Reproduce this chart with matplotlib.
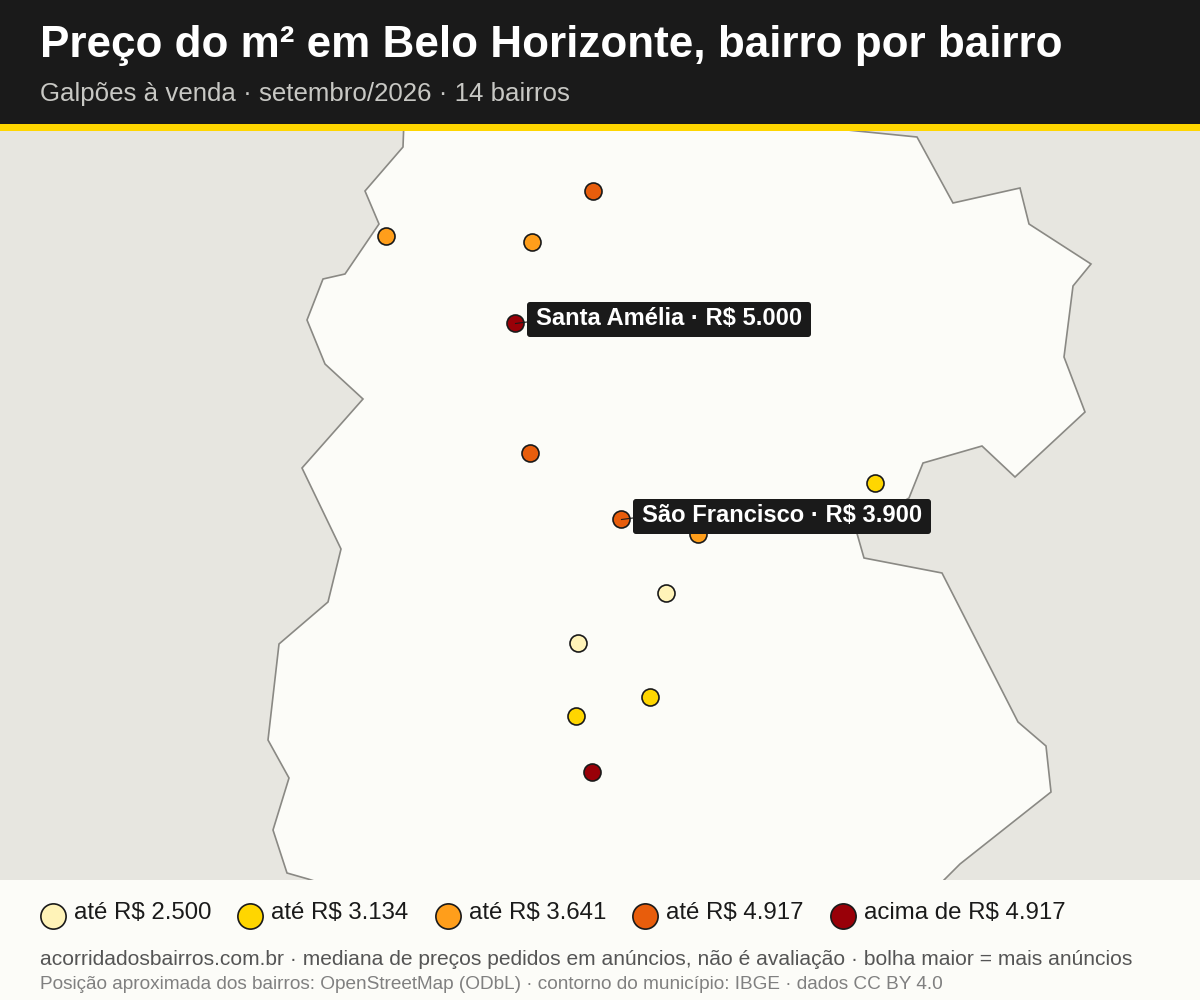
import matplotlib
matplotlib.use("Agg")
import matplotlib.pyplot as plt
from matplotlib.patches import FancyBboxPatch, Polygon, Rectangle
from matplotlib.lines import Line2D

plt.rcParams["font.family"] = ["Liberation Sans", "DejaVu Sans"]

# outline runs a bit past the map strip, header and footer hide the ends
OUTLINE_X = [404, 403, 365, 379, 345, 323, 307, 325, 363, 302, 341, 328, 279, 268, 289, 273, 287, 308, 343,
             934, 944, 960, 1051, 1046, 1018, 942, 864, 856, 909, 923, 982, 1015, 1085, 1064, 1073, 1091,
             1029, 1020, 953, 917, 857, 752]
OUTLINE_Y = [120, 147, 191, 224, 274, 279, 320, 364, 399, 468, 549, 602, 644, 740, 778, 830, 873, 879, 890,
             890, 880, 864, 792, 746, 722, 573, 558, 530, 498, 463, 446, 477, 412, 357, 286, 264,
             224, 188, 203, 137, 131, 120]

BAIRRO_X = [593.5, 386.5, 532.5, 515.5, 530.5, 875.5, 698.5, 621.5, 666.5, 578.5, 650.5, 576.5, 592.5]
BAIRRO_Y = [191.5, 236.5, 242.5, 323.5, 453.5, 483.5, 534.5, 519.5, 593.5, 643.5, 697.5, 716.5, 772.5]
BAIRRO_CLASS = [3, 2, 2, 4, 3, 1, 2, 3, 0, 0, 1, 1, 4]

CLASS_COLORS = ["#FFF3B8", "#FFD600", "#FF9E1B", "#E85D0C", "#990008"]
CLASS_LABELS = ["até R$ 2.500", "até R$ 3.134", "até R$ 3.641", "até R$ 4.917", "acima de R$ 4.917"]
LEGEND_MARK_X = [53, 250, 447.5, 645, 842.5]
LEGEND_TEXT_X = [74, 271, 469, 666, 864]

CALLOUTS = ["Santa Amélia · R$ 5.000", "São Francisco · R$ 3.900"]
CALLOUT_POINT = [(515.5, 323.5), (621.5, 519.5)]
CALLOUT_BOX = [(527, 302, 284, 35), (633, 499, 298, 35)]

DARK = "#1A1A1A"
PAPER = "#FCFCF8"
LAND = "#E7E6E0"


def main():
    fig = plt.figure(figsize=(12, 10), dpi=100, facecolor=PAPER)
    ax = fig.add_axes([0, 0, 1, 1])
    ax.set_xlim(0, 1200)
    ax.set_ylim(1000, 0)
    ax.axis("off")

    # map background and municipality
    ax.add_patch(Rectangle((0, 131), 1200, 749, facecolor=LAND, edgecolor="none", zorder=1))
    ax.add_patch(Polygon(list(zip(OUTLINE_X, OUTLINE_Y)), closed=True, facecolor=PAPER,
                         edgecolor="#8A8984", linewidth=1.2, zorder=2))
    ax.add_patch(Rectangle((0, 880), 1200, 120, facecolor=PAPER, edgecolor="none", zorder=3))

    # header
    ax.add_patch(Rectangle((0, 0), 1200, 124, facecolor=DARK, edgecolor="none", zorder=3))
    ax.add_patch(Rectangle((0, 124), 1200, 7, facecolor="#FFD600", edgecolor="none", zorder=3))
    ax.text(40, 57, "Preço do m² em Belo Horizonte, bairro por bairro", color="white", fontsize=31.68,
            fontweight="bold", va="baseline", zorder=4)
    ax.text(40, 101, "Galpões à venda · setembro/2026 · 14 bairros", color="#C8C8C4", fontsize=18.6,
            va="baseline", zorder=4)

    ax.scatter(BAIRRO_X, BAIRRO_Y, s=150, c=[CLASS_COLORS[c] for c in BAIRRO_CLASS],
               edgecolors=DARK, linewidths=1.2, zorder=5)

    for label, pt, box in zip(CALLOUTS, CALLOUT_POINT, CALLOUT_BOX):
        x0, y0, w, h = box
        ax.add_line(Line2D([pt[0], x0], [pt[1], pt[1] - 1.5], color=DARK, linewidth=0.8, zorder=6))
        ax.add_patch(FancyBboxPatch((x0 + 3, y0 + 3), w - 6, h - 6, boxstyle="round,pad=3,rounding_size=3",
                                    facecolor=DARK, edgecolor="none", zorder=6))
        ax.text(x0 + 8.5, y0 + 23, label, color="white", fontsize=17.08, fontweight="bold",
                va="baseline", zorder=7)

    # legend
    for i, label in enumerate(CLASS_LABELS):
        ax.scatter([LEGEND_MARK_X[i]], [915.5], s=330, c=CLASS_COLORS[i], edgecolors=DARK, linewidths=1.2, zorder=5)
        ax.text(LEGEND_TEXT_X[i], 919, label, color=DARK, fontsize=17.28, va="baseline", zorder=5)

    ax.text(40, 965, "acorridadosbairros.com.br · mediana de preços pedidos em anúncios, não é avaliação"
            " · bolha maior = mais anúncios", color="#555555", fontsize=15.1, va="baseline", zorder=5)
    ax.text(40, 989, "Posição aproximada dos bairros: OpenStreetMap (ODbL) · contorno do município: IBGE"
            " · dados CC BY 4.0", color="#808080", fontsize=13.72, va="baseline", zorder=5)

    fig.savefig("out.png", dpi=100, facecolor=PAPER)


if __name__ == "__main__":
    main()
